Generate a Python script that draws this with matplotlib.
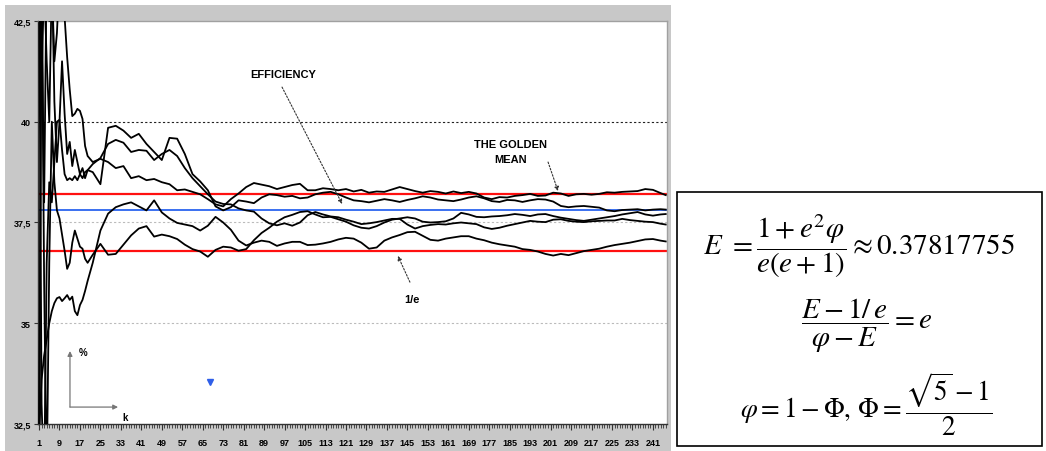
"""
Running efficiency of the best-choice strategy vs. step k,
with the golden mean, E and 1/e reference levels and the formula box.
"""

import matplotlib
matplotlib.use("Agg")
import matplotlib.pyplot as plt
from matplotlib.patches import Rectangle
from matplotlib.ticker import MultipleLocator

# step k: every step at the start, then every third step
k = list(range(1, 21)) + list(range(22, 245, 3)) + [246]

# five runs (%)
pct_a = [44.0, 41.0, 43.5, 41.5, 40.0, 43.5, 41.5, 42.2, 43.6, 44.0,
         42.6, 41.6, 40.8, 40.14, 40.2, 40.32, 40.27, 40.07, 39.4, 39.15,
         39.0, 39.08, 39.0, 38.85, 38.9, 38.6, 38.65, 38.55, 38.58, 38.5,
         38.45, 38.3, 38.32, 38.26, 38.2, 38.08, 37.95, 37.9, 38.08, 38.22,
         38.38, 38.48, 38.44, 38.4, 38.33, 38.38, 38.43, 38.46, 38.3, 38.3,
         38.35, 38.33, 38.3, 38.33, 38.27, 38.31, 38.24, 38.27, 38.26, 38.32,
         38.38, 38.33, 38.28, 38.24, 38.28, 38.26, 38.22, 38.27, 38.23, 38.26,
         38.22, 38.12, 38.08, 38.13, 38.12, 38.16, 38.18, 38.21, 38.16, 38.17,
         38.24, 38.22, 38.16, 38.2, 38.21, 38.19, 38.21, 38.25, 38.24, 38.26,
         38.27, 38.28, 38.33, 38.31, 38.23, 38.18]

pct_b = [31.0, 43.0, 38.0, 44.0, 42.5, 44.0, 40.5, 39.0, 40.0, 41.5,
         40.2, 39.2, 39.5, 38.9, 39.3, 39.0, 38.7, 38.85, 38.6, 38.8,
         38.75, 38.45, 39.85, 39.9, 39.78, 39.6, 39.7, 39.45, 39.25, 39.05,
         39.6, 39.58, 39.2, 38.7, 38.52, 38.3, 37.9, 37.8, 37.88, 38.05,
         38.02, 37.98, 38.12, 38.2, 38.18, 38.14, 38.16, 38.1, 38.12, 38.2,
         38.24, 38.26, 38.2, 38.12, 38.05, 38.03, 38.0, 38.04, 38.08, 38.05,
         38.01, 38.06, 38.1, 38.15, 38.12, 38.07, 38.05, 38.03, 38.07, 38.12,
         38.15, 38.1, 38.03, 38.01, 38.06, 38.05, 38.01, 38.05, 38.08, 38.07,
         38.02, 37.91, 37.88, 37.9, 37.91, 37.89, 37.87, 37.8, 37.78, 37.81,
         37.82, 37.83, 37.8, 37.82, 37.83, 37.82]

pct_c = [44.0, 33.0, 31.0, 36.5, 38.5, 38.0, 39.0, 40.0, 40.05, 39.3,
         38.7, 38.55, 38.6, 38.55, 38.65, 38.55, 38.7, 38.6, 38.75, 38.8,
         38.95, 39.1, 39.45, 39.55, 39.48, 39.25, 39.3, 39.28, 39.05, 39.2,
         39.3, 39.15, 38.85, 38.6, 38.4, 38.2, 38.02, 37.96, 37.95, 37.85,
         37.8, 37.77, 37.6, 37.48, 37.43, 37.48, 37.42, 37.5, 37.68, 37.76,
         37.7, 37.65, 37.63, 37.57, 37.52, 37.46, 37.48, 37.51, 37.55, 37.59,
         37.59, 37.45, 37.35, 37.41, 37.44, 37.46, 37.45, 37.48, 37.5, 37.48,
         37.46, 37.38, 37.34, 37.37, 37.42, 37.46, 37.5, 37.54, 37.52, 37.51,
         37.57, 37.58, 37.54, 37.52, 37.51, 37.53, 37.54, 37.55, 37.55, 37.59,
         37.56, 37.54, 37.52, 37.51, 37.47, 37.45]

pct_d = [32.2, 33.6, 34.2, 34.6, 35.0, 35.3, 35.5, 35.62, 35.65, 35.55,
         35.62, 35.7, 35.58, 35.66, 35.3, 35.2, 35.45, 35.58, 35.8, 36.05,
         36.5, 37.3, 37.72, 37.88, 37.95, 38.0, 37.9, 37.8, 38.05, 37.75,
         37.6, 37.49, 37.45, 37.41, 37.3, 37.42, 37.64, 37.5, 37.32, 37.05,
         36.93, 37.0, 37.05, 37.02, 36.92, 36.98, 37.02, 37.02, 36.94, 36.95,
         36.98, 37.02, 37.08, 37.12, 37.1, 37.0, 36.85, 36.88, 37.05, 37.13,
         37.19, 37.26, 37.27, 37.17, 37.07, 37.05, 37.1, 37.13, 37.16, 37.16,
         37.1, 37.06, 37.0, 36.96, 36.93, 36.9, 36.84, 36.82, 36.78, 36.72,
         36.68, 36.72, 36.69, 36.74, 36.79, 36.82, 36.85, 36.9, 36.94, 36.97,
         37.0, 37.04, 37.08, 37.09, 37.05, 37.03]

pct_e = [31.0, 44.0, 36.0, 31.0, 36.5, 40.0, 38.5, 37.8, 37.6, 37.2,
         36.8, 36.35, 36.5, 37.0, 37.3, 37.1, 36.9, 36.85, 36.6, 36.5,
         36.7, 36.97, 36.7, 36.72, 36.95, 37.18, 37.35, 37.41, 37.15, 37.2,
         37.16, 37.09, 36.95, 36.84, 36.78, 36.65, 36.82, 36.9, 36.88, 36.8,
         36.84, 37.06, 37.24, 37.37, 37.52, 37.63, 37.69, 37.76, 37.78, 37.7,
         37.63, 37.64, 37.58, 37.52, 37.43, 37.37, 37.35, 37.41, 37.5, 37.57,
         37.6, 37.63, 37.6, 37.52, 37.5, 37.51, 37.53, 37.6, 37.74, 37.7,
         37.64, 37.63, 37.65, 37.66, 37.68, 37.71, 37.69, 37.66, 37.7, 37.71,
         37.66, 37.62, 37.59, 37.56, 37.54, 37.57, 37.6, 37.63, 37.66, 37.7,
         37.73, 37.76, 37.7, 37.67, 37.7, 37.71]

# reference levels (%)
golden_mean = 38.197   # phi = 1 - Phi
efficiency = 37.818    # E
one_over_e = 36.788    # 1/e

# small blue marker near the bottom
marker_k = [68]
marker_pct = [33.55]

y_ticks = [32.5, 35, 37.5, 40, 42.5]
y_labels = ["32,5", "35", "37,5", "40", "42,5"]
x_ticks = list(range(1, 242, 8))
x_labels = [str(t) for t in x_ticks]


def plot_chart(out_path="out.png"):
    plt.rcParams['mathtext.fontset'] = 'stix'
    label_font = 'Liberation Sans'

    W, H = 1046, 452
    fig = plt.figure(figsize=(W / 100, H / 100), dpi=100)

    # grey chart frame behind the plot area
    fig.patches.append(Rectangle((5 / W, 0), 666 / W, 446 / H,
                                 transform=fig.transFigure,
                                 facecolor='#c8c8c8', edgecolor='none',
                                 zorder=-10))

    ax = fig.add_axes([38 / W, 27 / H, 629 / W, 403 / H])
    ax.set_zorder(2)
    ax.set_facecolor('white')

    # grid levels
    ax.axhline(40, color='#222222', ls=(0, (2, 2)), lw=0.8, zorder=1)
    ax.axhline(37.5, color='#bbbbbb', ls=(0, (2, 2)), lw=0.8, zorder=1)
    ax.axhline(35, color='#bbbbbb', ls=(0, (2, 2)), lw=0.8, zorder=1)

    # reference levels
    ax.axhline(golden_mean, color='#ff1010', lw=1.6, zorder=2)
    ax.axhline(one_over_e, color='#ff1010', lw=1.6, zorder=2)
    ax.axhline(efficiency, color='#3a70f0', lw=1.4, zorder=2)

    for pct in (pct_a, pct_b, pct_c, pct_d, pct_e):
        ax.plot(k, pct, color='black', lw=1.3, zorder=3,
                solid_joinstyle='round')

    ax.plot(marker_k, marker_pct, ls='none', marker='v', ms=4.5,
            color='#2f5fe8', zorder=4)

    ax.set_xlim(0.6, 246.5)
    ax.set_ylim(32.5, 42.5)

    ax.set_yticks(y_ticks)
    ax.set_yticklabels(y_labels, fontsize=6.5, fontweight='bold',
                       family=label_font)
    ax.set_xticks(x_ticks)
    ax.set_xticklabels(x_labels, fontsize=6.5, fontweight='bold',
                       family=label_font)
    ax.xaxis.set_minor_locator(MultipleLocator(1))
    ax.tick_params(axis='x', which='major', length=4, width=0.8, pad=6,
                   color='#333333')
    ax.tick_params(axis='x', which='minor', length=3, width=0.6,
                   color='#333333')
    ax.tick_params(axis='y', length=3, width=0.8, pad=2, color='#333333')

    for side in ('left', 'bottom'):
        ax.spines[side].set_color('#333333')
        ax.spines[side].set_linewidth(1.0)
    for side in ('top', 'right'):
        ax.spines[side].set_color('#a0a0a0')
        ax.spines[side].set_linewidth(1.0)

    # labels with dotted pointer arrows
    arrow = dict(arrowstyle='-|>', color='#333333', lw=0.8,
                 linestyle=(0, (1.5, 1.5)), mutation_scale=6,
                 shrinkA=0, shrinkB=0)
    ax.text(96.4, 41.18, 'EFFICIENCY', ha='center', va='center',
            fontsize=8, fontweight='bold', family=label_font, zorder=5)
    ax.annotate('', xy=(119.5, 37.96), xytext=(96.0, 40.86),
                arrowprops=arrow, zorder=5)
    ax.text(185.5, 39.27, 'THE GOLDEN\nMEAN', ha='center', va='center',
            fontsize=8, fontweight='bold', family=label_font,
            linespacing=1.6, zorder=5)
    ax.annotate('', xy=(203.9, 38.28), xytext=(200.0, 39.0),
                arrowprops=arrow, zorder=5)
    ax.text(146.8, 35.6, '1/e', ha='center', va='center',
            fontsize=8, fontweight='bold', family=label_font, zorder=5)
    ax.annotate('', xy=(141.3, 36.67), xytext=(146.0, 36.02),
                arrowprops=arrow, zorder=5)

    # little axis sketch: % up, k right
    sketch = dict(arrowstyle='-|>', color='#777777', lw=0.9,
                  mutation_scale=7, shrinkA=0, shrinkB=0)
    ax.annotate('', xy=(13.1, 34.31), xytext=(13.1, 32.92),
                arrowprops=sketch)
    ax.annotate('', xy=(31.9, 32.92), xytext=(13.1, 32.92),
                arrowprops=sketch)
    ax.text(18.2, 34.29, '%', ha='center', va='center', fontsize=7,
            fontweight='bold', family=label_font)
    ax.text(34.6, 32.67, 'k', ha='center', va='center', fontsize=7,
            fontweight='bold', family=label_font)

    # formula box
    fig.patches.append(Rectangle((677 / W, 5 / H), 365 / W, 254 / H,
                                 transform=fig.transFigure,
                                 facecolor='white', edgecolor='black',
                                 lw=1.2, zorder=1))
    fig.text(859 / W, 1 - 246 / H,
             r'$E\ =\dfrac{1+e^{2}\varphi}{e(e+1)}\approx 0.37817755$',
             ha='center', va='center', fontsize=21)
    fig.text(867 / W, 1 - 326 / H,
             r'$\dfrac{E-1/\,e}{\varphi-E}=e$',
             ha='center', va='center', fontsize=21)
    fig.text(866 / W, 1 - 404 / H,
             r'$\varphi=1-\Phi,\,\Phi=\dfrac{\sqrt{5}-1}{2}$',
             ha='center', va='center', fontsize=19.5)

    fig.savefig(out_path, dpi=100)
    plt.close(fig)


if __name__ == "__main__":
    plot_chart()
